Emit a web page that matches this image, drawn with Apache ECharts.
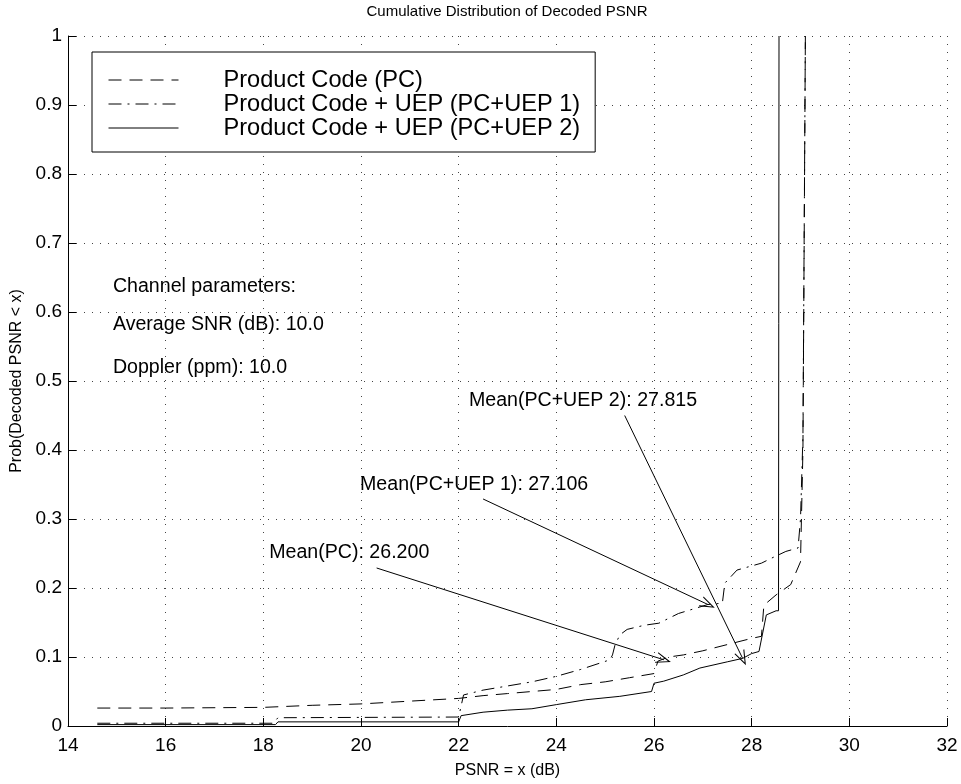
<!DOCTYPE html>
<html>
<head>
<meta charset="utf-8">
<script src="https://cdn.jsdelivr.net/npm/echarts@6/dist/echarts.min.js"></script>
<style>
  html, body { margin: 0; padding: 0; background: #fff; }
  #chart { width: 961px; height: 784px; }
</style>
</head>
<body>
<div id="chart"></div>
<script>
// Empirical CDFs of decoded PSNR (x in dB, y = Prob(PSNR < x))
const pcX = [14.6, 16, 18, 19, 20, 21, 22, 22.5, 23, 23.5, 24, 24.5, 25, 25.5, 26.0, 26.08, 26.3, 26.6, 27.0, 27.5, 28.0, 28.2, 28.25, 28.5, 28.8, 29.0, 29.05, 29.1];
const pcY = [0.026, 0.026, 0.027, 0.030, 0.032, 0.036, 0.040, 0.044, 0.047, 0.050, 0.053, 0.060, 0.064, 0.070, 0.076, 0.094, 0.100, 0.103, 0.109, 0.118, 0.127, 0.130, 0.175, 0.190, 0.205, 0.238, 0.40, 1.0];

const uep1X = [14.6, 18.2, 18.3, 22.0, 22.1, 22.5, 23, 23.5, 24, 24.5, 25.1, 25.15, 25.2, 25.3, 25.45, 25.8, 26.1, 26.5, 27.1, 27.4, 27.45, 27.7, 28.2, 28.4, 28.7, 28.95, 29.0, 29.05, 29.1];
const uep1Y = [0.004, 0.004, 0.012, 0.013, 0.045, 0.052, 0.058, 0.064, 0.072, 0.082, 0.096, 0.103, 0.117, 0.132, 0.140, 0.146, 0.149, 0.163, 0.176, 0.178, 0.207, 0.226, 0.236, 0.243, 0.253, 0.258, 0.30, 0.42, 1.0];

const uep2X = [14.6, 18.25, 18.3, 22.0, 22.05, 22.5, 23, 23.5, 24, 24.6, 25.3, 25.95, 26.0, 26.2, 26.6, 26.94, 27.5, 27.815, 28.0, 28.15, 28.3, 28.5, 28.55, 28.56];
const uep2Y = [0.002, 0.002, 0.006, 0.006, 0.015, 0.020, 0.023, 0.025, 0.031, 0.038, 0.043, 0.050, 0.062, 0.065, 0.074, 0.084, 0.093, 0.098, 0.105, 0.108, 0.161, 0.167, 0.167, 1.0];

const seriesNames = ['Product Code (PC)', 'Product Code + UEP (PC+UEP 1)', 'Product Code + UEP (PC+UEP 2)'];

// Mean PSNR of each scheme and the CDF height the arrow points at
const meanLabels = ['Mean(PC)', 'Mean(PC+UEP 1)', 'Mean(PC+UEP 2)'];
const meanValues = [26.200, 27.106, 27.815];
const meanArrowY = [0.096, 0.176, 0.098];
const meanTextX = [18.12, 19.98, 22.21];
const meanTextY = [0.251, 0.350, 0.471];
const arrowFromX = [20.32, 22.5, 25.4];
const arrowFromY = [0.229, 0.329, 0.45];

// Channel parameter notes
const infoText = ['Channel parameters:', 'Average SNR (dB): 10.0', 'Doppler (ppm): 10.0'];
const infoX = [14.92, 14.92, 14.92];
const infoY = [0.637, 0.582, 0.520];

const xTicks = { min: 14, max: 32, step: 2 };
const yTicks = { min: 0, max: 1, step: 0.1 };

const zip = (xs, ys) => xs.map((x, i) => [x, ys[i]]);

const FONT = '"Liberation Sans", Arial, Helvetica, sans-serif';
const dashStyles = [[13, 8], [13, 6, 2, 6], 'solid'];
const curves = [zip(pcX, pcY), zip(uep1X, uep1Y), zip(uep2X, uep2Y)];

// open V-shaped arrow head
const arrowHead = 'path://M0,0 L10,20 L8,20 L0,4 L-8,20 L-10,20 Z';

const noteData = infoText.map((t, i) => [infoX[i], infoY[i], t])
  .concat(meanLabels.map((m, i) => [meanTextX[i], meanTextY[i], m + ': ' + meanValues[i].toFixed(3)]));

const arrowData = meanValues.map((v, i) => [
  { coord: [arrowFromX[i], arrowFromY[i]], symbol: 'none' },
  { coord: [v, meanArrowY[i]], symbol: arrowHead, symbolSize: [11, 15] }
]);

const chart = echarts.init(document.getElementById('chart'), null, { renderer: 'canvas' });

const lineSeries = curves.map((d, i) => ({
  name: seriesNames[i],
  type: 'line',
  data: d,
  symbol: 'none',
  showSymbol: false,
  legendIcon: 'none',
  z: 3,
  lineStyle: { color: '#000', width: 1, type: dashStyles[i] },
  itemStyle: { color: 'rgba(0,0,0,0)', borderWidth: 0 },
  emphasis: { disabled: true }
}));

chart.setOption({
  animation: false,
  backgroundColor: '#fff',
  textStyle: { fontFamily: FONT },
  grid: { left: 68, right: 14, top: 36, bottom: 56, containLabel: false },
  graphic: [{
    type: 'text',
    x: 507, y: 4,
    style: { text: 'Cumulative Distribution of Decoded PSNR', fill: '#000', font: '15px ' + FONT, align: 'center', textAlign: 'center' }
  }],
  legend: {
    data: seriesNames,
    orient: 'vertical',
    left: 92, top: 52,
    padding: [16, 15, 12, 16],
    itemGap: 0,
    itemWidth: 70,
    itemHeight: 14,
    backgroundColor: '#fff',
    borderColor: '#000',
    borderWidth: 1,
    selectedMode: false,
    itemStyle: { color: 'rgba(0,0,0,0)', borderWidth: 0, opacity: 0 },
    lineStyle: { color: '#000', width: 1 },
    textStyle: { fontSize: 23.6, color: '#000', fontFamily: FONT, padding: [0, 0, 0, 40], lineHeight: 24 }
  },
  xAxis: {
    type: 'value',
    min: xTicks.min, max: xTicks.max, interval: xTicks.step,
    name: 'PSNR = x (dB)',
    nameLocation: 'middle',
    nameGap: 37,
    nameTextStyle: { fontSize: 16, color: '#000' },
    axisLine: { show: true, onZero: false, lineStyle: { color: '#000', width: 1 } },
    axisTick: { show: true, inside: true, length: 8, lineStyle: { color: '#000' } },
    axisLabel: { fontSize: 19, color: '#000', margin: 10 },
    splitLine: { show: true, lineStyle: { color: '#444', width: 1, type: [1, 7] } }
  },
  yAxis: {
    type: 'value',
    min: yTicks.min, max: yTicks.max, interval: yTicks.step,
    name: 'Prob(Decoded PSNR < x)',
    nameLocation: 'middle',
    nameRotate: 90,
    nameGap: 42,
    nameTextStyle: { fontSize: 16, color: '#000' },
    axisLine: { show: true, onZero: false, lineStyle: { color: '#000', width: 1 } },
    axisTick: { show: true, inside: true, length: 8, lineStyle: { color: '#000' } },
    axisLabel: { fontSize: 19, color: '#000', margin: 6, formatter: v => String(Math.round(v * 10) / 10) },
    splitLine: { show: true, lineStyle: { color: '#444', width: 1, type: [1, 7] } }
  },
  series: lineSeries.concat([{
    name: 'notes',
    type: 'scatter',
    data: noteData,
    symbolSize: 0,
    silent: true,
    z: 4,
    itemStyle: { opacity: 1 },
    label: {
      show: true, position: 'right', distance: 0,
      formatter: p => p.data[2],
      fontSize: 19.6, color: '#000', opacity: 1, fontFamily: FONT
    },
    markLine: {
      silent: true,
      animation: false,
      label: { show: false },
      lineStyle: { color: '#000', width: 1, type: 'solid', opacity: 1 },
      emphasis: { disabled: true },
      data: arrowData
    }
  }])
});
</script>
</body>
</html>
